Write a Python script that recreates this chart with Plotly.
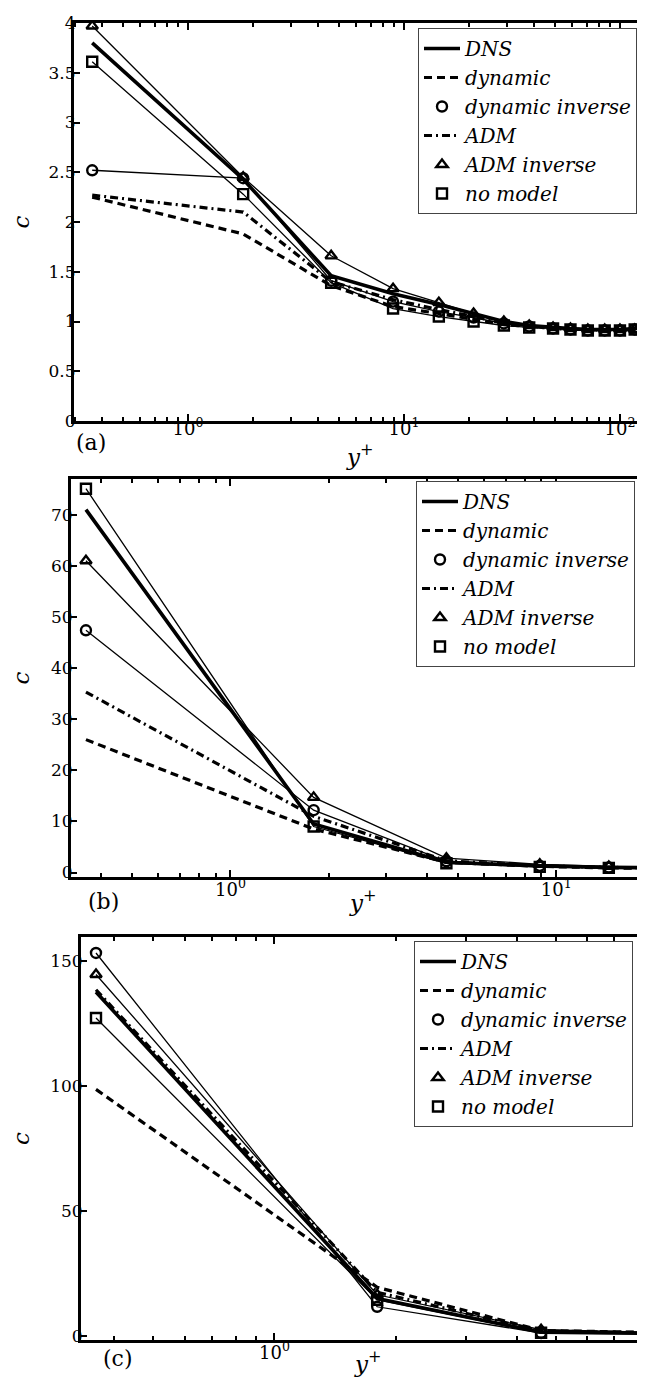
import plotly.graph_objects as go

# ---------------- data ----------------
series_names = ["DNS", "dynamic", "dynamic inverse", "ADM", "ADM inverse", "no model"]

# panel (a)
yplus_a = [0.36, 1.8, 4.6, 8.9, 14.5, 21, 29, 38, 49, 59, 71, 85, 100, 117, 136, 155]
dns_a = [3.80, 2.43, 1.46, 1.28, 1.17, 1.08, 1.00, 0.96, 0.94, 0.93, 0.92, 0.92, 0.92, 0.93, 0.94, 0.95]
dyn_a = [2.25, 1.88, 1.36, 1.15, 1.08, 1.02, 0.97, 0.95, 0.93, 0.92, 0.92, 0.91, 0.91, 0.92, 0.93, 0.94]
dyninv_a = [2.52, 2.44, 1.41, 1.20, 1.10, 1.04, 0.98, 0.95, 0.93, 0.92, 0.91, 0.91, 0.91, 0.92, 0.93, 0.94]
adm_a = [2.27, 2.10, 1.40, 1.22, 1.12, 1.05, 0.98, 0.95, 0.93, 0.92, 0.92, 0.91, 0.91, 0.92, 0.93, 0.94]
adminv_a = [3.97, 2.45, 1.66, 1.33, 1.19, 1.08, 1.00, 0.96, 0.94, 0.93, 0.92, 0.92, 0.92, 0.92, 0.93, 0.94]
nomodel_a = [3.61, 2.28, 1.39, 1.13, 1.05, 1.00, 0.96, 0.94, 0.93, 0.92, 0.91, 0.91, 0.91, 0.92, 0.93, 0.94]

# panel (b)
yplus_b = [0.36, 1.8, 4.6, 8.9, 14.5, 21]
dns_b = [71.0, 9.5, 2.0, 1.3, 1.0, 0.9]
dyn_b = [26.0, 8.5, 2.0, 1.2, 0.9, 0.8]
dyninv_b = [47.4, 12.2, 2.2, 1.3, 1.0, 0.9]
adm_b = [35.3, 11.0, 2.3, 1.3, 1.0, 0.9]
adminv_b = [61.0, 14.7, 2.8, 1.6, 1.2, 0.9]
nomodel_b = [75.1, 9.0, 1.8, 1.1, 0.9, 0.8]

# panel (c)
yplus_c = [0.36, 1.8, 4.6, 8.9, 14.5]
dns_c = [137.7, 15.0, 1.5, 0.9, 0.8]
dyn_c = [98.7, 19.5, 2.2, 1.0, 0.8]
dyninv_c = [153.3, 11.7, 1.2, 0.8, 0.7]
adm_c = [138.6, 17.5, 2.0, 1.0, 0.8]
adminv_c = [144.7, 16.5, 2.5, 1.1, 0.8]
nomodel_c = [127.3, 14.5, 1.3, 0.8, 0.7]

panel_labels = ["(a)", "(b)", "(c)"]
x_title = "<i>y</i><sup>+</sup>"
y_title = "<i>c</i>"
x_tickvals = [1, 10, 100]
x_ticktext = ["10<sup>0</sup>", "10<sup>1</sup>", "10<sup>2</sup>"]

# ---------------- layout geometry (pixels) ----------------
W, H = 645, 1378
panels = [
    dict(x=yplus_a, ys=[dns_a, dyn_a, dyninv_a, adm_a, adminv_a, nomodel_a],
         left=66, top=15, bottom=413, xr=[-0.528, 2.153], yr=[0, 4], dy=0.5,
         leg=(410, 20), lab=(83, 435), xt=(352, 447), xls=-11),
    dict(x=yplus_b, ys=[dns_b, dyn_b, dyninv_b, adm_b, adminv_b, nomodel_b],
         left=63, top=471, bottom=869, xr=[-0.4896, 1.297], yr=[-0.88, 77.0], dy=10,
         leg=(408, 473), lab=(95, 893), xt=(355, 893), xls=-6),
    dict(x=yplus_c, ys=[dns_c, dyn_c, dyninv_c, adm_c, adminv_c, nomodel_c],
         left=73, top=929, bottom=1332, xr=[-0.481, 0.941], yr=[-1.6, 159.7], dy=50,
         leg=(406, 933), lab=(110, 1350), xt=(360, 1354), xls=-6),
]

FONT = "'DejaVu Serif', serif"
fig = go.Figure()
layout = dict(width=W, height=H, margin=dict(l=0, r=0, t=0, b=0),
              paper_bgcolor="white", plot_bgcolor="white", showlegend=True,
              font=dict(family=FONT, color="black"))
annotations = []

for i, p in enumerate(panels):
    n = "" if i == 0 else str(i + 1)
    xa, ya = "x" + n, "y" + n
    legname = "legend" + n
    x = p["x"]
    dns, dyn, dyninv, adm, adminv, nomodel = p["ys"]
    common = dict(xaxis=xa, yaxis=ya, legend=legname, hoverinfo="skip")
    # thin solid lines connecting marker series
    for yy in (dyninv, adminv, nomodel):
        fig.add_trace(go.Scatter(x=x, y=yy, mode="lines", showlegend=False,
                                 line=dict(color="black", width=1.3), **common))
    fig.add_trace(go.Scatter(x=x, y=dyn, mode="lines", name=series_names[1], legendrank=2,
                             line=dict(color="black", width=3.2, dash="8px,5px"), **common))
    fig.add_trace(go.Scatter(x=x, y=adm, mode="lines", name=series_names[3], legendrank=4,
                             line=dict(color="black", width=3.2, dash="8px,4px,2px,4px"), **common))
    fig.add_trace(go.Scatter(x=x, y=dns, mode="lines", name=series_names[0], legendrank=1,
                             line=dict(color="black", width=3.6), **common))
    for yy, nm, sym, rk in ((dyninv, series_names[2], "circle-open", 3),
                            (adminv, series_names[4], "triangle-up-open", 5),
                            (nomodel, series_names[5], "square-open", 6)):
        fig.add_trace(go.Scatter(x=x, y=yy, mode="markers", name=nm, legendrank=rk,
                                 marker=dict(symbol=sym, size=10, color="black",
                                             line=dict(width=2.4, color="black")),
                                 **common))

    xdom = [p["left"] / W, 1]
    ydom = [1 - p["bottom"] / H, 1 - p["top"] / H]
    axline = dict(showline=True, linecolor="black", linewidth=3, showgrid=False,
                  zeroline=False, ticks="inside", tickcolor="black", tickwidth=1.5,
                  mirror="ticks")
    layout["xaxis" + n] = dict(
        type="log", domain=xdom, range=p["xr"], anchor=ya,
        tickmode="array", tickvals=x_tickvals, ticktext=x_ticktext, ticklen=7,
        tickfont=dict(family=FONT, size=18), ticklabelstandoff=p["xls"],
        minor=dict(ticks="inside", ticklen=4, tickcolor="black", tickwidth=1.5,
                   dtick="D1", showgrid=False),
        automargin=False, **axline)
    layout["yaxis" + n] = dict(
        domain=ydom, range=p["yr"], anchor=xa, dtick=p["dy"], tick0=0, ticklen=6,
        tickfont=dict(family=FONT, size=17), ticklabelstandoff=-8,
        title=dict(text=y_title, font=dict(family=FONT, size=23), standoff=15),
        automargin=False, **axline)
    layout[legname] = dict(
        x=p["leg"][0] / W, y=1 - p["leg"][1] / H, xanchor="left", yanchor="top",
        bgcolor="white", bordercolor="#444", borderwidth=1, itemwidth=36,
        font=dict(family=FONT, size=20, style="italic"), tracegroupgap=0)
    annotations.append(dict(text=panel_labels[i], x=p["lab"][0] / W, y=1 - p["lab"][1] / H,
                            xref="paper", yref="paper", showarrow=False,
                            font=dict(family=FONT, size=22), xanchor="center", yanchor="middle"))
    annotations.append(dict(text=x_title, x=p["xt"][0] / W, y=1 - p["xt"][1] / H,
                            xref="paper", yref="paper", showarrow=False,
                            font=dict(family=FONT, size=23), xanchor="center", yanchor="middle"))

layout["annotations"] = annotations
fig.update_layout(**layout)
fig.write_html("out.html")
